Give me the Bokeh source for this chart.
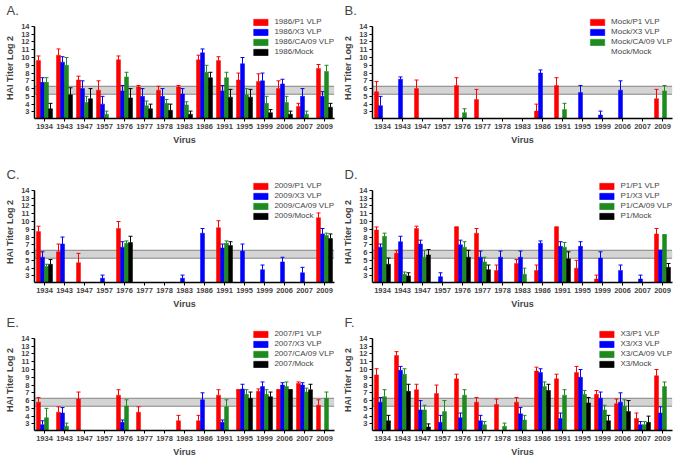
from bokeh.plotting import figure
from bokeh.models import (ColumnDataSource, Range1d, FixedTicker,
                          BoxAnnotation, Span, Whisker, TeeHead)
from bokeh.transform import dodge
from bokeh.layouts import gridplot
from bokeh.embed import file_html
from bokeh.resources import INLINE

N = None
years = ["1934", "1943", "1947", "1957", "1976", "1977", "1978", "1983",
         "1986", "1991", "1995", "1999", "2006", "2007", "2009"]
vaccines = ["P1 VLP", "X3 VLP", "CA/09 VLP", "Mock"]
y_ticks = [3, 4, 5, 6, 7, 8, 9, 10, 11, 12, 13, 14]
band_low, band_high = 5.27, 6.3

A_p1 = [9.6, 10.3, 7.1, 5.8, 9.7, 6.2, 5.8, 6.2, 9.7, 9.6, 7.1, 6.9, 6.0, 3.7, 8.6]
A_p1_hi = [10.2, 11.1, 7.6, 7.0, 10.2, 6.4, 6.3, 6.4, 10.3, 10.1, 8.0, 7.9, 7.0, 4.1, 9.1]
A_x3 = [6.8, 9.4, 6.0, 4.0, 5.7, 5.0, 5.0, 5.3, 10.6, 5.7, 9.2, 7.0, 6.6, 5.0, 5.0]
A_x3_hi = [7.4, 10.1, 7.0, 5.0, 6.4, 6.0, 6.0, 6.0, 11.1, 6.4, 10.0, 8.0, 7.2, 6.0, 5.6]
A_ca = [6.8, 9.0, 4.2, 2.7, 7.5, 3.8, 4.1, 3.9, 8.1, 7.4, 5.2, 4.1, 4.2, 2.7, 8.2]
A_ca_hi = [7.4, 10.0, 5.0, 3.1, 8.1, 4.4, 4.6, 4.3, 9.0, 8.1, 6.0, 5.0, 5.0, 3.1, 9.0]
A_mock = [3.4, 5.2, 4.7, N, 4.8, 3.4, 3.2, 2.7, 7.4, 4.9, 4.9, 2.9, 2.7, N, 3.6]
A_mock_hi = [4.1, 6.1, 6.0, N, 6.0, 4.0, 4.0, 3.1, 8.1, 5.9, 5.9, 3.3, 3.1, N, 4.1]

B_p1 = [5.6, N, 6.0, N, 6.4, 4.6, N, N, 3.1, 6.4, N, N, N, N, 4.7]
B_p1_hi = [6.9, N, 7.1, N, 7.4, 5.9, N, N, 4.0, 7.4, N, N, N, N, 5.9]
B_x3 = [3.8, 7.2, N, N, N, N, N, N, 8.0, N, 5.5, 2.6, 5.8, N, N]
B_x3_hi = [5.0, 7.5, N, N, N, N, N, N, 8.4, N, 6.4, 3.1, 7.0, N, N]
B_ca = [N, N, N, N, 2.9, N, N, N, N, 3.3, N, N, N, N, 5.7]
B_ca_hi = [N, N, N, N, 3.4, N, N, N, N, 4.1, N, N, N, N, 6.4]
B_mock = [N] * 15
B_mock_hi = [N] * 15

C_p1 = [8.7, 6.1, 4.7, N, 9.1, N, N, N, N, 9.2, N, N, N, N, 10.5]
C_p1_hi = [9.4, 7.1, 5.9, N, 10.0, N, N, N, N, 10.1, N, N, N, N, 11.1]
C_x3 = [5.4, 7.1, N, 2.7, 6.7, N, N, 2.7, 8.5, 6.6, 6.2, 3.8, 4.8, 3.4, 8.4]
C_x3_hi = [6.1, 8.0, N, 3.1, 7.4, N, N, 3.1, 9.1, 7.1, 7.1, 4.4, 5.4, 4.1, 9.1]
C_ca = [4.2, N, N, N, 7.2, N, N, N, N, 7.2, N, N, N, N, 8.2]
C_ca_hi = [4.5, N, N, N, 7.5, N, N, N, N, 7.5, N, N, N, N, 8.5]
C_mock = [4.5, N, N, N, 7.3, N, N, N, N, 6.9, N, N, N, N, 7.8]
C_mock_hi = [5.1, N, N, N, 8.1, N, N, N, N, 7.4, N, N, N, N, 8.4]

D_p1 = [8.9, 5.9, 9.1, N, 9.3, 8.5, 3.7, 4.6, 3.7, 9.3, 4.0, 2.6, N, N, 8.4]
D_p1_hi = [9.3, 6.3, 9.4, N, 9.3, 9.1, 4.4, 5.1, 4.4, 9.3, 5.0, 3.1, N, N, 9.1]
D_x3 = [6.7, 7.4, 7.1, 2.9, 7.0, 5.4, 5.4, 5.4, 7.2, 6.8, 6.8, 5.3, 3.7, 2.6, 6.3]
D_x3_hi = [7.1, 8.1, 7.6, 3.4, 7.6, 6.2, 6.2, 6.2, 7.5, 7.4, 7.4, 6.1, 4.4, 3.1, 6.3]
D_ca = [8.1, 3.2, 5.4, N, 6.7, 4.8, N, 3.2, N, 6.7, N, N, N, N, 8.3]
D_ca_hi = [8.5, 3.5, 6.3, N, 7.4, 5.4, N, 4.0, N, 7.3, N, N, N, N, 8.3]
D_mock = [4.5, 3.0, 5.7, N, 5.4, 3.8, N, N, N, 5.2, N, N, N, N, 4.1]
D_mock_hi = [5.3, 3.4, 6.4, N, 6.3, 4.4, N, N, N, 6.1, N, N, N, N, 4.6]

E_p1 = [5.8, 4.5, 6.2, N, 6.7, 4.5, N, 3.4, 3.4, 6.7, 7.4, 7.2, 7.4, 8.2, 5.4]
E_p1_hi = [6.4, 5.2, 7.1, N, 7.4, 5.2, N, 4.1, 4.1, 7.4, 7.4, 7.5, 7.4, 8.4, 6.1]
E_x3 = [2.9, 4.4, N, N, 3.2, N, N, N, 6.1, 3.2, 7.5, 7.8, 8.0, 8.0, N]
E_x3_hi = [3.4, 5.1, N, N, 3.5, N, N, N, 7.0, 3.5, 8.1, 8.4, 8.3, 8.3, N]
E_ca = [3.8, 2.7, N, N, 5.3, N, N, N, N, 5.2, 6.8, 6.8, 7.8, 7.1, 6.3]
E_ca_hi = [5.0, 3.1, N, N, 6.1, N, N, N, N, 6.1, 7.4, 7.4, 8.4, 7.6, 7.1]
E_mock = [N, N, N, N, N, N, N, N, N, N, 6.3, 6.5, 7.4, 7.4, N]
E_mock_hi = [N, N, N, N, N, N, N, N, N, N, 7.1, 7.1, 7.4, 8.1, N]

F_p1 = [9.3, 11.8, 7.4, 6.9, 8.8, 5.8, 5.5, 5.8, 9.8, 8.8, 9.6, 6.8, 5.6, 3.7, 9.2]
F_p1_hi = [10.1, 12.3, 8.1, 8.0, 9.4, 6.4, 6.2, 6.4, 10.3, 9.4, 10.4, 7.3, 6.2, 4.4, 10.0]
F_x3 = [5.8, 9.9, 4.8, 3.2, 3.8, 3.4, N, 4.3, 9.6, 3.7, 9.0, 6.3, 5.8, 2.9, 4.4]
F_x3_hi = [6.4, 10.4, 6.0, 4.1, 4.4, 4.1, N, 5.1, 10.1, 4.4, 10.0, 7.1, 7.0, 3.3, 5.2]
F_ca = [6.5, 9.4, 4.8, 4.6, 6.7, 2.9, 2.7, 3.5, 7.8, 6.7, 6.8, 4.8, 5.3, 2.9, 7.8]
F_ca_hi = [7.4, 10.1, 5.4, 6.0, 7.4, 3.3, 3.1, 4.1, 8.4, 7.4, 7.3, 5.4, 6.1, 3.3, 8.4]
F_mock = [3.4, 7.2, 2.6, N, N, N, N, N, 7.3, N, 5.7, 3.4, 4.6, 3.2, N]
F_mock_hi = [4.1, 8.1, 3.0, N, N, N, N, N, 8.1, N, 6.4, 4.1, 6.0, 4.0, N]

COLORS = ["#ff0000", "#0000ff", "#1f8a1f", "#000000"]
OFFSETS = [-0.3, -0.1, 0.1, 0.3]
BAR_W = 0.2
Y_START, Y_END = 2.15, 15.15
FONT = "Liberation Sans"
FRAME_W = 300
FRAME_H = 101


def make_panel(letter, prefix, series, top):
    p = figure(x_range=Range1d(-0.5, len(years) - 0.5),
               y_range=Range1d(Y_START, Y_END),
               frame_width=FRAME_W, frame_height=FRAME_H, output_backend="svg",
               toolbar_location=None, min_border_top=top, min_border_bottom=26,
               min_border_left=34, min_border_right=4)
    p.outline_line_color = None
    p.xgrid.grid_line_color = None
    p.ygrid.grid_line_color = None

    p.add_layout(BoxAnnotation(bottom=band_low, top=band_high, fill_color="#d4d4d4",
                               fill_alpha=1, line_alpha=0, level="underlay"))
    for loc in (band_low, band_high):
        p.add_layout(Span(location=loc, dimension="width", line_color="#222222",
                          line_width=1, line_dash="1 1", level="underlay"))

    for (vals, his), name, col, off in zip(series, vaccines, COLORS, OFFSETS):
        xs, vs, hs = [], [], []
        for i, (v, h) in enumerate(zip(vals, his)):
            if v is not None:
                xs.append(i)
                vs.append(v)
                hs.append(h)
        src = ColumnDataSource(dict(idx=xs, val=vs, hi=hs))
        xd = dodge("idx", off)
        p.vbar(x=xd, top="val", bottom=Y_START, width=BAR_W, source=src,
               fill_color=col, line_color=col, line_width=0.5,
               legend_label=f"{prefix}/{name}")
        p.add_layout(Whisker(source=src, base=xd, upper="hi", lower="val",
                             line_color=col, line_width=1, level="annotation",
                             upper_head=TeeHead(size=4, line_color=col, line_width=1),
                             lower_head=None))

    p.xaxis.ticker = FixedTicker(ticks=list(range(len(years))))
    p.xaxis.major_label_overrides = {i: y for i, y in enumerate(years)}
    p.xaxis.minor_tick_line_color = None
    p.yaxis.ticker = FixedTicker(ticks=y_ticks)
    p.yaxis.bounds = (Y_START, 14)
    p.yaxis.minor_tick_line_color = None
    p.axis.major_tick_in = 0
    p.axis.major_tick_out = 3
    p.axis.axis_line_width = 1.5
    p.axis.major_label_text_font = FONT
    p.axis.major_label_text_font_style = "bold"
    p.axis.major_label_text_font_size = "7.5px"
    p.axis.major_label_standoff = 2
    p.axis.axis_label_text_font = FONT
    p.axis.axis_label_text_font_style = "bold"
    p.axis.axis_label_text_font_size = "9px"
    p.axis.axis_label_standoff = 3
    p.yaxis.axis_label = "HAI Titer Log 2"
    p.xaxis.axis_label = "Virus"

    lg = p.legend[0]
    lg.location = "top_right"
    lg.background_fill_alpha = 0
    lg.border_line_alpha = 0
    lg.padding = 0
    lg.margin = 0
    lg.spacing = 1
    lg.glyph_width = 18
    lg.glyph_height = 8
    lg.label_height = 8
    lg.label_standoff = 5
    lg.label_text_font = FONT
    lg.label_text_font_size = "8px"

    p.title.text = letter
    p.title.align = "left"
    p.title.offset = -28
    p.title.text_font = FONT
    p.title.text_font_style = "normal"
    p.title.text_font_size = "13px"
    p.title.standoff = 0
    return p


pA = make_panel("A.", "1986", [(A_p1, A_p1_hi), (A_x3, A_x3_hi), (A_ca, A_ca_hi), (A_mock, A_mock_hi)], 16)
pB = make_panel("B.", "Mock", [(B_p1, B_p1_hi), (B_x3, B_x3_hi), (B_ca, B_ca_hi), (B_mock, B_mock_hi)], 16)
pC = make_panel("C.", "2009", [(C_p1, C_p1_hi), (C_x3, C_x3_hi), (C_ca, C_ca_hi), (C_mock, C_mock_hi)], 34)
pD = make_panel("D.", "P1", [(D_p1, D_p1_hi), (D_x3, D_x3_hi), (D_ca, D_ca_hi), (D_mock, D_mock_hi)], 34)
pE = make_panel("E.", "2007", [(E_p1, E_p1_hi), (E_x3, E_x3_hi), (E_ca, E_ca_hi), (E_mock, E_mock_hi)], 18)
pF = make_panel("F.", "X3", [(F_p1, F_p1_hi), (F_x3, F_x3_hi), (F_ca, F_ca_hi), (F_mock, F_mock_hi)], 18)

layout = gridplot([[pA, pB], [pC, pD], [pE, pF]], toolbar_location=None)
open("out.html", "w").write(file_html(layout, INLINE))
